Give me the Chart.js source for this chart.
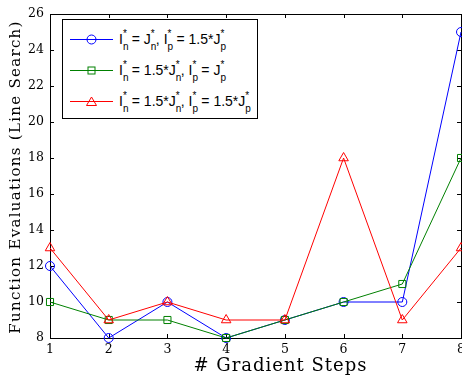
<!DOCTYPE html>
<html>
<head>
<meta charset="utf-8">
<script src="https://cdn.jsdelivr.net/npm/chart.js@4.4.1/dist/chart.umd.min.js"></script>
<style>
  html, body { margin: 0; padding: 0; background: #fff; overflow: hidden; }
  #wrap { position: relative; width: 462px; height: 379px; overflow: hidden; }
  #legend {
    position: absolute; left: 62px; top: 19px; width: 194px; height: 98px;
    border: 1px solid #000; background: #fff;
    font-family: "Liberation Sans", Arial, sans-serif; font-size: 14px; color: #000;
  }
  .row { position: absolute; left: 7px; height: 20px; display: flex; align-items: center; white-space: nowrap; }
  .row svg { margin-right: 6px; }
  .ss { display: inline-block; position: relative; width: 5px; height: 0; }
  .ss .sp { position: absolute; left: 0; top: -15px; font-size: 10px; line-height: 10px; }
  .ss .sb { position: absolute; left: 0; top: -2px; font-size: 10px; line-height: 10px; }
</style>
</head>
<body>
<div id="wrap">
  <canvas id="chart" width="469" height="379"></canvas>
  <div id="legend"></div>
</div>
<script>
// data
const steps = ['1', '2', '3', '4', '5', '6', '7', '8'];
const evals_blue = [12, 8, 10, 8, 9, 10, 10, 25];
const evals_green = [10, 9, 9, 8, 9, 10, 11, 18];
const evals_red = [13, 9, 10, 9, 9, 18, 9, 13];
const y_min = 8, y_max = 26, y_step = 2;

const labels = [
    'I^*_n = J^*_n, I^*_p = 1.5*J^*_p',
    'I^*_n = 1.5*J^*_n, I^*_p = J^*_p',
    'I^*_n = 1.5*J^*_n, I^*_p = 1.5*J^*_p'
];
const x_title = '# Gradient Steps';
const y_title = 'Function Evaluations (Line Search)';
const colors = ['#0000ff', '#008000', '#ff0000'];
const markers = ['circle', 'rect', 'triangle'];
const marker_size = [4.5, 5, 5.5];

const serif = '"DejaVu Serif", serif';

// inward ticks + box around the plot, like matlab
const frame_ticks = {
    id: 'frame_ticks',
    beforeDatasetsDraw(chart)
    {
        const ctx = chart.ctx;
        const a = chart.chartArea;
        const x = chart.scales.x, y = chart.scales.y;
        const tl = 4;
        ctx.save();
        ctx.strokeStyle = '#000';
        ctx.lineWidth = 1;
        ctx.strokeRect(Math.round(a.left) + 0.5, Math.round(a.top) + 0.5,
            Math.round(a.right - a.left), Math.round(a.bottom - a.top));
        ctx.beginPath();
        x.ticks.forEach((t, i) => {
            let px = Math.round(x.getPixelForTick(i)) + 0.5;
            ctx.moveTo(px, a.bottom); ctx.lineTo(px, a.bottom - tl);
            ctx.moveTo(px, a.top); ctx.lineTo(px, a.top + tl);
        });
        y.ticks.forEach((t, i) => {
            let py = Math.round(y.getPixelForTick(i)) + 0.5;
            ctx.moveTo(a.left, py); ctx.lineTo(a.left + tl, py);
            ctx.moveTo(a.right, py); ctx.lineTo(a.right - tl, py);
        });
        ctx.stroke();
        ctx.restore();
    },
    // axis titles drawn here: the x label sits right of centre in the original,
    // and both need a bit of letter spacing to get the wide TeX look
    afterDraw(chart)
    {
        const ctx = chart.ctx;
        const a = chart.chartArea;
        ctx.save();
        ctx.fillStyle = '#000';
        ctx.textAlign = 'center';
        ctx.textBaseline = 'middle';
        ctx.font = '18px ' + serif;
        ctx.letterSpacing = '1px';
        ctx.fillText(x_title, (a.left + a.right) / 2 + 25, 366);
        ctx.font = '15px ' + serif;
        ctx.letterSpacing = '1.3px';
        ctx.translate(16, (a.top + a.bottom) / 2 + 1);
        ctx.rotate(-Math.PI / 2);
        ctx.fillText(y_title, 0, 0);
        ctx.restore();
    }
};

function make_set(i, values)
{
    return {
        label: labels[i],
        data: values,
        borderColor: colors[i],
        borderWidth: 1,
        pointStyle: markers[i],
        pointRadius: marker_size[i],
        pointBorderColor: colors[i],
        pointBackgroundColor: 'rgba(0,0,0,0)',
        pointBorderWidth: 1,
        tension: 0,
        clip: false,
        order: 2 - i
    };
}

var ctx = document.getElementById('chart').getContext('2d');
var myChart = new Chart(ctx, {
    type: 'line',
    data: {
        labels: steps,
        datasets: [make_set(0, evals_blue), make_set(1, evals_green), make_set(2, evals_red)]
    },
    options: {
        responsive: false,
        animation: false,
        events: [],
        layout: { padding: { top: 14, right: 0, bottom: 0, left: 0 } },
        plugins: { legend: { display: false }, tooltip: { enabled: false } },
        scales: {
            x: {
                offset: false,
                grid: { display: false, drawTicks: false },
                border: { display: false },
                ticks: { color: '#000', font: { family: serif, size: 12.5 }, padding: 4, maxRotation: 0 },
                afterFit(scale) { scale.height = 41; }
            },
            y: {
                min: y_min,
                max: y_max,
                grid: { display: false, drawTicks: false },
                border: { display: false },
                ticks: { stepSize: y_step, color: '#000', font: { family: serif, size: 12.5 }, padding: 6 },
                afterFit(scale) { scale.width = 50; scale.paddingTop = 0; scale.paddingBottom = 0; }
            }
        }
    },
    plugins: [frame_ticks]
});

// legend in html so the sub/superscripts stay real text
function tex_html(s)
{
    return s.replace(/\^\*_(\w)/g, '<span class="ss"><span class="sp">*</span><span class="sb">$1</span></span>');
}

function marker_svg(i)
{
    let c = colors[i];
    let m = '';
    if (markers[i] == 'circle')
        m = `<circle cx="21.5" cy="7.5" r="4.5" fill="none" stroke="${c}"/>`;
    else if (markers[i] == 'rect')
        m = `<rect x="18" y="4" width="7" height="7" fill="none" stroke="${c}"/>`;
    else
        m = `<polygon points="21.5,3 26.5,11.5 16.5,11.5" fill="none" stroke="${c}"/>`;
    return `<svg width="43" height="15"><line x1="0" y1="7.5" x2="43" y2="7.5" stroke="${c}"/>${m}</svg>`;
}

let legend = document.getElementById('legend');
labels.forEach((lab, i) => {
    let row = document.createElement('div');
    row.className = 'row';
    row.style.top = (9 + i * 31) + 'px';
    row.innerHTML = marker_svg(i) + '<span>' + tex_html(lab) + '</span>';
    legend.appendChild(row);
});
</script>
</body>
</html>
